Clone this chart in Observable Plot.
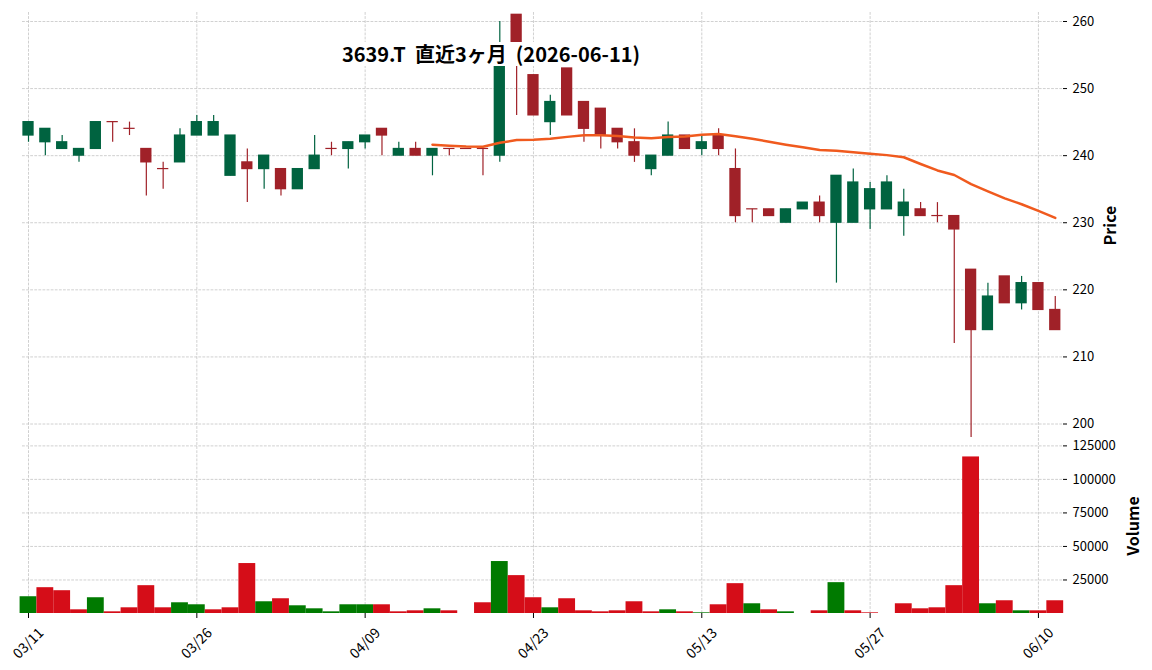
<!DOCTYPE html>
<html>
<head>
<meta charset="utf-8">
<script src="https://cdn.jsdelivr.net/npm/d3@7"></script>
<script src="https://cdn.jsdelivr.net/npm/@observablehq/plot@0.6"></script>
<style>
  body { margin: 0; background: #fff; }
  #wrap { position: relative; width: 1152px; height: 670px; font-family: "Noto Sans CJK JP", "Noto Sans", sans-serif; }
  #chart svg { display: block; }
  #title { position: absolute; top: 42px; left: 491px; transform: translateX(-50%); font-size: 20px; font-weight: bold; white-space: pre; background: #fff; line-height: 24px; padding: 0 2px; color: #000; }
</style>
</head>
<body>
<div id="wrap">
  <div id="chart"></div>
  <div id="title">3639.T  直近3ヶ月  (2026-06-11)</div>
</div>
<script>
const dates = [
  "2026-03-11","2026-03-12","2026-03-13","2026-03-16","2026-03-17","2026-03-18","2026-03-19",
  "2026-03-23","2026-03-24","2026-03-25","2026-03-26","2026-03-27","2026-03-30","2026-03-31",
  "2026-04-01","2026-04-02","2026-04-03","2026-04-06","2026-04-07","2026-04-08","2026-04-09",
  "2026-04-10","2026-04-13","2026-04-14","2026-04-15","2026-04-16","2026-04-17","2026-04-20",
  "2026-04-21","2026-04-22","2026-04-23","2026-04-24","2026-04-27","2026-04-28","2026-04-30",
  "2026-05-01","2026-05-07","2026-05-08","2026-05-11","2026-05-12","2026-05-13","2026-05-14",
  "2026-05-15","2026-05-18","2026-05-19","2026-05-20","2026-05-21","2026-05-22","2026-05-25",
  "2026-05-26","2026-05-27","2026-05-28","2026-05-29","2026-06-01","2026-06-02","2026-06-03",
  "2026-06-04","2026-06-05","2026-06-08","2026-06-09","2026-06-10","2026-06-11"
];
const open  = [243,242,241,240,241,245,244,241,238,239,243,243,237,239,238,238,235,238,241,241,242,244,240,241,240,241,241,241,240,261,252,245,253,248,247,244,242,238,240,243,241,243,238,232,232,230,232,233,230,230,232,232,231,232,231,231,223,214,222,218,221,217];
const high  = [245,244,243,241,245,245,245,241,239,244,246,246,243,241,240,238,238,243,242,242,243,244,242,242,241,241,241,241,260,261,252,249,253,248,247,244,244,240,245,243,243,244,241,232,232,232,233,234,237,238,236,237,235,233,233,231,223,221,222,222,221,219];
const low   = [242,240,241,239,241,242,243,234,235,239,243,243,237,233,235,234,235,238,240,238,241,240,240,240,237,240,241,237,239,246,246,243,246,242,241,241,239,237,240,241,240,240,230,230,231,230,232,230,221,230,229,232,228,231,230,212,198,214,218,217,217,214];
const close = [245,244,242,241,245,245,244,239,238,243,245,245,243,238,240,235,238,240,241,242,243,243,241,240,241,241,241,241,256,255,246,248,246,244,243,242,240,240,243,241,242,241,231,232,231,232,233,231,237,236,235,236,233,231,231,229,214,219,218,221,217,214];
const volume = [12500,19250,17000,2750,11750,1250,4250,20750,4250,8000,6500,2750,4250,37250,8750,11000,5750,3500,1250,6500,6500,6500,1250,2000,3500,2000,0,8000,38750,28250,11750,4250,11000,2000,1250,2000,8750,1250,2750,1250,500,6500,22250,7250,2750,1250,0,2000,23000,2000,500,0,7250,3500,4250,20750,116750,7250,9500,2000,2000,9500];

const tickIdx = [0, 10, 20, 30, 40, 50, 60];
const priceTicks = [200, 210, 220, 230, 240, 250, 260];
const volTicks = [25000, 50000, 75000, 100000, 125000];

const cUp = "#006340", cDown = "#a02128", vUp = "#007a00", vDown = "#d50d18", maColor = "#f05a1e";
const fontFamily = '"Noto Sans CJK JP", "Noto Sans", sans-serif';

const rows = dates.map((d, i) => ({
  i, date: d, open: open[i], high: high[i], low: low[i], close: close[i], volume: volume[i]
}));
const candleColor = d => d.close > d.open ? cUp : cDown;
const volColor = d => (d.i === 0 ? d.close > d.open : d.close > close[d.i - 1]) ? vUp : vDown;
const fmtDate = i => dates[i].slice(5).replace("-", "/");

const xDomain = [-0.357, 61.43];
const grid = { stroke: "#bdbdbd", strokeOpacity: 0.9, strokeDasharray: "2.8,1.3", strokeWidth: 0.8 };
const style = { fontFamily, fontSize: "13px", background: "#fff", color: "#000", overflow: "visible" };

const price = Plot.plot({
  width: 1152, height: 438, marginTop: 12, marginBottom: 0, marginLeft: 22, marginRight: 90,
  style,
  x: { type: "linear", domain: xDomain, axis: null },
  y: { domain: [197.84, 261.34], axis: null },
  marks: [
    Plot.gridX(tickIdx, grid),
    Plot.gridY(priceTicks, grid),
    Plot.ruleX(rows, { x: "i", y1: "low", y2: "high", stroke: candleColor, strokeWidth: 1.2 }),
    Plot.rect(rows, {
      x1: d => d.i - 0.335, x2: d => d.i + 0.335,
      y1: d => Math.min(d.open, d.close), y2: d => Math.max(d.open, d.close),
      fill: candleColor, insetTop: -0.6, insetBottom: -0.6
    }),
    Plot.lineY(rows, Plot.windowY({ k: 25, anchor: "end", strict: true }, { x: "i", y: "close", stroke: maColor, strokeWidth: 2.5 })),
    Plot.axisY(priceTicks, { anchor: "right", tickSize: 4, tickPadding: 6, label: null, fontSize: 13 }),
    Plot.text(["Price"], { text: d => d, frameAnchor: "right", dx: 48, rotate: -90, textAnchor: "middle", lineAnchor: "middle", fontSize: 16, fontWeight: "bold" })
  ]
});

const vol = Plot.plot({
  width: 1152, height: 232, marginTop: 0, marginBottom: 57, marginLeft: 22, marginRight: 90,
  style,
  x: { type: "linear", domain: xDomain, axis: null },
  y: { domain: [0, 130500], axis: null },
  marks: [
    Plot.gridX(tickIdx, grid),
    Plot.gridY(volTicks, grid),
    Plot.rectY(rows, { x1: d => d.i - 0.5, x2: d => d.i + 0.5, y: "volume", fill: volColor }),
    Plot.axisY(volTicks, { anchor: "right", tickSize: 4, tickPadding: 6, label: null, tickFormat: d3.format("d"), fontSize: 13 }),
    Plot.axisX(tickIdx, { tickSize: 5, tickFormat: () => "", label: null }),
    Plot.text(tickIdx, { x: d => d, text: fmtDate, frameAnchor: "bottom", dy: 30, rotate: -45, textAnchor: "middle", lineAnchor: "middle", fontSize: 14 }),
    Plot.text(["Volume"], { text: d => d, frameAnchor: "right", dx: 71, rotate: -90, textAnchor: "middle", lineAnchor: "middle", fontSize: 16, fontWeight: "bold" })
  ]
});

document.getElementById("chart").append(price, vol);
</script>
</body>
</html>
